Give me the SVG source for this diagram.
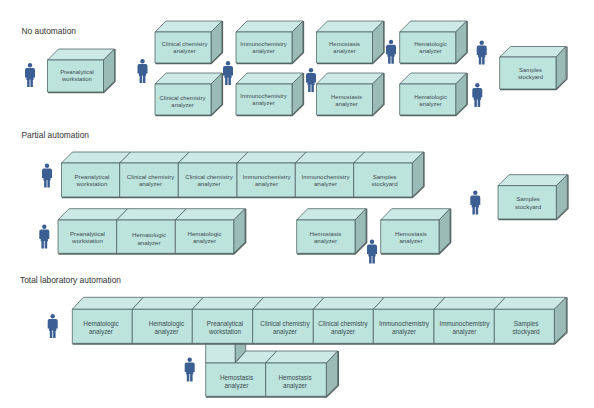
<svg xmlns="http://www.w3.org/2000/svg" width="594" height="408" viewBox="0 0 594 408">
<style>
text{font-family:"Liberation Sans",Arial,sans-serif;fill:#3c4b50}
.h{font-size:8.4px;fill:#333}
.l{font-size:5.9px;text-anchor:middle}
.r2 .l{font-size:6.1px}
.r3 .l{font-size:6.35px}
.f{fill:#bde3dd}
.t{fill:#cce9e5}
.s{fill:#9bbbb7}
.e{stroke:#4a5f60;stroke-width:.75;stroke-linejoin:round}
.b{fill:none;stroke:#566665;stroke-width:1.3}
.p{fill:#3c5f93}
</style>
<defs>
<g id="man"><circle cx="0" cy="2.2" r="2.2"/><path d="M-3.2 5H3.2Q5 5 5 7V14.5H3.6V17L2.9 17V24H.4V16.5H-.4V24H-2.9V17L-3.6 17V14.5H-5V7Q-5 5-3.2 5Z"/></g>
</defs>
<rect width="594" height="408" fill="#fff"/>
<g id="headings">
<text class="h" x="21.5" y="33.5">No automation</text>
<text class="h" x="21.5" y="138">Partial automation</text>
<text class="h" x="20" y="283">Total laboratory automation</text>
</g>
<g id="connectors"></g>
<g id="staff" class="p">
<use href="#man" x="30" y="63"/><use href="#man" x="142.5" y="59"/><use href="#man" x="228" y="61"/><use href="#man" x="391" y="39.7"/><use href="#man" x="481.7" y="40.5"/><use href="#man" x="311" y="68"/><use href="#man" x="477.3" y="83"/><use href="#man" x="47" y="163.5"/><use href="#man" x="44.3" y="224.5"/><use href="#man" x="475.3" y="190.5"/><use href="#man" x="372" y="239.5"/><use href="#man" x="52.7" y="314"/><use href="#man" x="189.7" y="357.500"/>
</g>
<g id="n1"><path class="t e" d="M47.5 60L58.5 49H114.5L103.5 60Z"/><path class="s e" d="M103.5 60L114.5 49V81L103.5 92Z"/><rect class="f e" x="47.5" y="60" width="56" height="32"/><path class="b" d="M48 92.700H103.700L115 81.500V49"/><text class="l" x="77" y="74">Preanalytical</text><text class="l" x="77" y="81">workstation</text></g>
<g id="n2"><path class="t e" d="M155 32L166 21H222L211 32Z"/><path class="s e" d="M211 32L222 21V52L211 63Z"/><rect class="f e" x="155" y="32" width="56" height="31"/><path class="b" d="M155.500 63.700H211.200L222.500 52.500V21"/><text class="l" x="184.500" y="45.500">Clinical chemistry</text><text class="l" x="184.500" y="52.500">analyzer</text></g>
<g id="n3"><path class="t e" d="M155 84L166 73H222L211 84Z"/><path class="s e" d="M211 84L222 73V104L211 115Z"/><rect class="f e" x="155" y="84" width="56" height="31"/><path class="b" d="M155.500 115.700H211.200L222.500 104.500V73"/><text class="l" x="182.500" y="99.500">Clinical chemistry</text><text class="l" x="182.500" y="106.500">analyzer</text></g>
<g id="n4"><path class="t e" d="M236 32L247 21H303L292 32Z"/><path class="s e" d="M292 32L303 21V52L292 63Z"/><rect class="f e" x="236" y="32" width="56" height="31"/><path class="b" d="M236.500 63.700H292.200L303.500 52.500V21"/><text class="l" x="263.500" y="45.500">Immunochemistry</text><text class="l" x="263.500" y="52.500">analyzer</text></g>
<g id="n5"><path class="t e" d="M236 84L247 73H303L292 84Z"/><path class="s e" d="M292 84L303 73V104L292 115Z"/><rect class="f e" x="236" y="84" width="56" height="31"/><path class="b" d="M236.500 115.700H292.200L303.500 104.500V73"/><text class="l" x="263.500" y="98">Immunochemistry</text><text class="l" x="263.500" y="105">analyzer</text></g>
<g id="n6"><path class="t e" d="M316.500 32L327.500 21H383.500L372.500 32Z"/><path class="s e" d="M372.500 32L383.500 21V52L372.500 63Z"/><rect class="f e" x="316.500" y="32" width="56" height="31"/><path class="b" d="M317 63.700H372.700L384 52.500V21"/><text class="l" x="344.500" y="45.500">Hemostasis</text><text class="l" x="344.500" y="52.500">analyzer</text></g>
<g id="n7"><path class="t e" d="M316.500 84L327.500 73H383.500L372.500 84Z"/><path class="s e" d="M372.500 84L383.500 73V104L372.500 115Z"/><rect class="f e" x="316.500" y="84" width="56" height="31"/><path class="b" d="M317 115.700H372.700L384 104.500V73"/><text class="l" x="346.500" y="98.500">Hemostasis</text><text class="l" x="346.500" y="105.500">analyzer</text></g>
<g id="n8"><path class="t e" d="M399.700 32L410.700 21H466.700L455.700 32Z"/><path class="s e" d="M455.700 32L466.700 21V52L455.700 63Z"/><rect class="f e" x="399.700" y="32" width="56" height="31"/><path class="b" d="M400.200 63.700H455.900L467.200 52.500V21"/><text class="l" x="430.500" y="45.500">Hematologic</text><text class="l" x="430.500" y="52.500">analyzer</text></g>
<g id="n9"><path class="t e" d="M399.700 84L410.700 73H466.700L455.700 84Z"/><path class="s e" d="M455.700 84L466.700 73V104L455.700 115Z"/><rect class="f e" x="399.700" y="84" width="56" height="31"/><path class="b" d="M400.200 115.700H455.900L467.200 104.500V73"/><text class="l" x="430.500" y="98.500">Hematologic</text><text class="l" x="430.500" y="105.500">analyzer</text></g>
<g id="n10"><path class="t e" d="M499.700 57L510.700 46.500H566L556 57Z"/><path class="s e" d="M556 57L566 46.500V78.500L556 89Z"/><rect class="f e" x="499.700" y="57" width="56.300" height="32"/><path class="b" d="M500 89.700H556.200L567 79V46.500"/><text class="l" x="530.500" y="72">Samples</text><text class="l" x="530.500" y="79">stockyard</text></g>
<g class="r2">
<g id="n11"><path class="t e" d="M61.500 163L72.500 152H130.700L119.700 163Z"/><rect class="f e" x="61.500" y="163" width="58.200" height="34"/><text class="l" x="92" y="178.500">Preanalytical</text><text class="l" x="92" y="186">workstation</text></g>
<g id="n12"><path class="t e" d="M119.700 163L130.700 152H189.300L178.300 163Z"/><rect class="f e" x="119.700" y="163" width="58.600" height="34"/><text class="l" x="150.500" y="178.500">Clinical chemistry</text><text class="l" x="150.500" y="186">analyzer</text></g>
<g id="n13"><path class="t e" d="M178.300 163L189.300 152H248L237 163Z"/><rect class="f e" x="178.300" y="163" width="58.700" height="34"/><text class="l" x="209" y="178.500">Clinical chemistry</text><text class="l" x="209" y="186">analyzer</text></g>
<g id="n14"><path class="t e" d="M237 163L248 152H306.300L295.300 163Z"/><rect class="f e" x="237" y="163" width="58.300" height="34"/><text class="l" x="266.500" y="178.500">Immunochemistry</text><text class="l" x="266.500" y="186">analyzer</text></g>
<g id="n15"><path class="t e" d="M295.300 163L306.300 152H364.700L353.700 163Z"/><rect class="f e" x="295.300" y="163" width="58.400" height="34"/><text class="l" x="325.500" y="178.500">Immunochemistry</text><text class="l" x="325.500" y="186">analyzer</text></g>
<g id="n16"><path class="t e" d="M353.700 163L364.700 152H423.500L412.300 163Z"/><path class="s e" d="M412.300 163L423.500 152V186L412.300 197Z"/><rect class="f e" x="353.700" y="163" width="58.600" height="34"/><text class="l" x="384.500" y="178.500">Samples</text><text class="l" x="384.500" y="186">stockyard</text><path class="b" d="M62 197.700H412.500L424 186.500V152"/></g>
<g id="n17"><path class="t e" d="M58 220L69 208.700H127.700L116.700 220Z"/><rect class="f e" x="58" y="220" width="58.700" height="33.300"/><text class="l" x="87.500" y="235.500">Preanalytical</text><text class="l" x="87.500" y="243">workstation</text></g>
<g id="n18"><path class="t e" d="M116.700 220L127.700 208.700H186.300L175.300 220Z"/><rect class="f e" x="116.700" y="220" width="58.600" height="33.300"/><text class="l" x="149" y="237">Hematologic</text><text class="l" x="149" y="244.500">analyzer</text></g>
<g id="n19"><path class="t e" d="M175.300 220L186.300 208.700H245L233.700 220Z"/><path class="s e" d="M233.700 220L245 208.700V242L233.700 253.300Z"/><rect class="f e" x="175.300" y="220" width="58.400" height="33.300"/><text class="l" x="204.500" y="235.500">Hematologic</text><text class="l" x="204.500" y="243">analyzer</text><path class="b" d="M58.500 254H233.900L245.700 242.500V208.700"/></g>
<g id="n20"><path class="t e" d="M296.700 220L307.700 208.700H366L355 220Z"/><path class="s e" d="M355 220L366 208.700V242L355 253.300Z"/><rect class="f e" x="296.700" y="220" width="58.300" height="33.300"/><text class="l" x="325.500" y="235.500">Hemostasis</text><text class="l" x="325.500" y="243">analyzer</text><path class="b" d="M297 254H355.200L366.700 242.500V208.700"/></g>
<g id="n21"><path class="t e" d="M380.700 220L391.700 208.700H450L439 220Z"/><path class="s e" d="M439 220L450 208.700V242L439 253.300Z"/><rect class="f e" x="380.700" y="220" width="58.300" height="33.300"/><text class="l" x="411" y="235.500">Hemostasis</text><text class="l" x="411" y="243">analyzer</text><path class="b" d="M381 254H439.200L450.700 242.500V208.700"/></g>
<g id="n22"><path class="t e" d="M498 185.700L509 174.700H567.300L556.300 185.700Z"/><path class="s e" d="M556.300 185.700L567.300 174.700V208L556.300 219Z"/><rect class="f e" x="498" y="185.700" width="58.300" height="33.300"/><text class="l" x="528" y="201">Samples</text><text class="l" x="528" y="209">stockyard</text><path class="b" d="M498.500 219.700H556.500L568 208.500V174.700"/></g>
</g>
<g class="r3">
<g id="n23"><path class="t e" d="M205.700 343H235.300V363H205.700Z"/><path class="s e" d="M235.300 343H245.700V351L235.300 362Z"/></g>
<g id="n24"><path class="t e" d="M235.300 363L246 351H276.700L265.700 363Z"/><rect class="f e" x="205.700" y="363" width="60" height="33.300"/><text class="l" x="236.500" y="379.500">Hemostasis</text><text class="l" x="236.500" y="387.500">analyzer</text></g>
<g id="n25"><path class="t e" d="M265.700 363L276.700 351H337.700L326.300 363Z"/><path class="s e" d="M326.300 363L337.700 351V385L326.300 396.300Z"/><rect class="f e" x="265.700" y="363" width="60.600" height="33.300"/><text class="l" x="295" y="379.500">Hemostasis</text><text class="l" x="295" y="387.500">analyzer</text><path class="b" d="M206 397H326.500L338.400 385.500V351"/></g>
<g id="n26"><path class="t e" d="M72.300 309.300L83.300 297.300H143.300L132.300 309.300Z"/><rect class="f e" x="72.300" y="309.300" width="60" height="34"/><text class="l" x="101" y="325.500">Hematologic</text><text class="l" x="101" y="333.500">analyzer</text></g>
<g id="n27"><path class="t e" d="M132.300 309.300L143.300 297.300H203.300L192.300 309.300Z"/><rect class="f e" x="132.300" y="309.300" width="60" height="34"/><text class="l" x="166.500" y="325.500">Hematologic</text><text class="l" x="166.500" y="333.500">analyzer</text></g>
<g id="n28"><path class="t e" d="M192.300 309.300L203.300 297.300H263.700L252.700 309.300Z"/><rect class="f e" x="192.300" y="309.300" width="60.400" height="34"/><text class="l" x="225" y="325.500">Preanalytical</text><text class="l" x="225" y="333.500">workstation</text></g>
<g id="n29"><path class="t e" d="M252.700 309.300L263.700 297.300H324.300L313.300 309.300Z"/><rect class="f e" x="252.700" y="309.300" width="60.600" height="34"/><text class="l" x="285" y="325.500">Clinical chemistry</text><text class="l" x="285" y="333.500">analyzer</text></g>
<g id="n30"><path class="t e" d="M313.300 309.300L324.300 297.300H384.300L373.300 309.300Z"/><rect class="f e" x="313.300" y="309.300" width="60" height="34"/><text class="l" x="343" y="325.500">Clinical chemistry</text><text class="l" x="343" y="333.500">analyzer</text></g>
<g id="n31"><path class="t e" d="M373.300 309.300L384.300 297.300H445L434 309.300Z"/><rect class="f e" x="373.300" y="309.300" width="60.700" height="34"/><text class="l" x="404" y="325.500">Immunochemistry</text><text class="l" x="404" y="333.500">analyzer</text></g>
<g id="n32"><path class="t e" d="M434 309.300L445 297.300H505.300L494.300 309.300Z"/><rect class="f e" x="434" y="309.300" width="60.300" height="34"/><text class="l" x="464.500" y="325.500">Immunochemistry</text><text class="l" x="464.500" y="333.500">analyzer</text></g>
<g id="n33"><path class="t e" d="M494.300 309.300L505.300 297.300H566.300L554.300 309.300Z"/><path class="s e" d="M554.300 309.300L566.300 297.300V332L554.300 343.300Z"/><rect class="f e" x="494.300" y="309.300" width="60" height="34"/><text class="l" x="526" y="325.500">Samples</text><text class="l" x="526" y="333.500">stockyard</text><path class="b" d="M72.500 344H554.500L567 332.500V297.300"/></g>
</g>
</svg>
